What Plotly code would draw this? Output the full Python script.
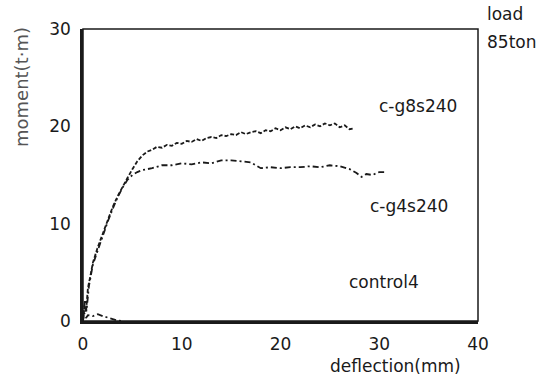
import plotly.graph_objects as go

# c-g8s240 (dashed)
g8_x = [0, 0.15, 0.3, 0.5, 0.8, 1.0, 1.5, 2.0, 2.5, 3.0, 3.5, 4.0, 4.5, 5.0, 5.5, 6.0, 6.5, 7.0, 7.5, 8.0,
        8.5, 9.0, 9.5, 10.0, 10.5, 11.0, 11.5, 12.0, 12.5, 13.0, 13.5, 14.0, 14.5, 15.0, 15.5, 16.0, 16.5,
        17.0, 17.5, 18.0, 18.5, 19.0, 19.5, 20.0, 20.5, 21.0, 21.5, 22.0, 22.5, 23.0, 23.5, 24.0, 24.5,
        25.0, 25.5, 26.0, 26.5, 27.0, 27.5]
g8_y = [0, 1.6, 0.9, 3.4, 4.9, 6.0, 7.6, 9.0, 10.4, 11.7, 12.8, 13.8, 14.7, 15.6, 16.4, 17.0, 17.4, 17.6, 17.9, 17.8,
        18.1, 18.0, 18.3, 18.2, 18.5, 18.4, 18.7, 18.5, 18.8, 18.9, 18.8, 19.1, 19.0, 19.2, 19.1, 19.4, 19.2,
        19.4, 19.5, 19.3, 19.6, 19.5, 19.8, 19.6, 19.9, 19.7, 20.0, 19.8, 20.1, 19.9, 20.2, 20.0, 20.3,
        20.1, 20.3, 19.9, 20.1, 19.7, 19.8]

# c-g4s240 (dash-dot)
g4_x = [0, 0.2, 0.35, 0.6, 1.0, 1.5, 2.0, 2.5, 3.0, 3.5, 4.0, 4.5, 5.0, 5.5, 6.0, 7.0, 8.0, 9.0, 10.0, 11.0,
        12.0, 13.0, 14.0, 15.0, 16.0, 17.0, 17.5, 18.0, 19.0, 20.0, 21.0, 22.0, 23.0, 24.0, 25.0, 26.0, 27.0,
        27.7, 28.2, 28.7, 29.3, 30.0, 30.8]
g4_y = [0, 2.2, 1.0, 3.6, 5.8, 7.3, 8.8, 10.2, 11.5, 12.7, 13.7, 14.5, 15.0, 15.3, 15.5, 15.7, 16.0, 16.0, 16.2, 16.1,
        16.3, 16.2, 16.5, 16.5, 16.4, 16.3, 16.0, 15.7, 15.8, 15.7, 15.8, 15.8, 15.9, 15.8, 16.0, 15.9, 15.6,
        15.2, 14.8, 15.1, 15.0, 15.3, 15.3]

# control4 (dash-dot)
c4_x = [0, 0.1, 0.3, 0.5, 1.0, 1.5, 2.0, 2.5, 3.0, 3.5, 4.0]
c4_y = [0, 0.9, 0.3, 0.6, 0.5, 0.7, 0.5, 0.35, 0.2, 0.05, 0]

x_ticks = [0, 10, 20, 30, 40]
y_ticks = [0, 10, 20, 30]

FONT = "DejaVu Sans"
ink = "#1a1a1a"

fig = go.Figure()
fig.add_trace(go.Scatter(x=g8_x, y=g8_y, mode="lines", name="c-g8s240",
                         line=dict(color=ink, width=1.8, dash="4px,2px")))
fig.add_trace(go.Scatter(x=g4_x, y=g4_y, mode="lines", name="c-g4s240",
                         line=dict(color=ink, width=1.8, dash="6px,3px,2px,3px")))
fig.add_trace(go.Scatter(x=c4_x, y=c4_y, mode="lines", name="control4",
                         line=dict(color=ink, width=1.8, dash="6px,3px,2px,3px")))

fig.update_layout(
    width=550, height=378,
    margin=dict(l=83, r=72, t=29, b=57),
    paper_bgcolor="white", plot_bgcolor="white",
    showlegend=False,
    font=dict(family=FONT, size=17, color=ink),
    shapes=[dict(type="rect", xref="paper", yref="paper", x0=0, y0=0, x1=1, y1=1,
                 line=dict(color=ink, width=1.5))],
)
fig.update_xaxes(range=[0, 40], tickvals=x_ticks, showgrid=False, zeroline=False,
                 showline=True, linecolor=ink, linewidth=3,
                 ticks="outside", ticklen=6, tickcolor="rgba(0,0,0,0)")
fig.update_yaxes(range=[0, 30], tickvals=y_ticks, showgrid=False, zeroline=False,
                 showline=True, linecolor=ink, linewidth=2.5,
                 ticks="outside", ticklen=6, tickcolor="rgba(0,0,0,0)")

ann = [
    dict(text="c-g8s240", x=33.9, y=22.1),
    dict(text="c-g4s240", x=33.0, y=11.8),
    dict(text="control4", x=30.5, y=4.0),
]
for a in ann:
    fig.add_annotation(text=a["text"], x=a["x"], y=a["y"], xref="x", yref="y",
                       xanchor="center", yanchor="middle",
                       showarrow=False, font=dict(family=FONT, size=17, color=ink))

W, H = 395, 292
def px(xp, yp):
    return (xp - 83) / W, (321 - yp) / H

mx, my = px(21, 87)
fig.add_annotation(text="moment(t·m)", xref="paper", yref="paper", x=mx, y=my,
                   xanchor="center", yanchor="middle",
                   textangle=-90, showarrow=False, font=dict(family=FONT, size=18, color="#555"))
dx, dy = px(395, 366)
fig.add_annotation(text="deflection(mm)", xref="paper", yref="paper", x=dx, y=dy,
                   xanchor="center", yanchor="middle",
                   showarrow=False, font=dict(family=FONT, size=17, color=ink))
lx, ly = px(485, 14)
fig.add_annotation(text="load", xref="paper", yref="paper", x=lx, y=ly,
                   xanchor="left", yanchor="middle", showarrow=False,
                   font=dict(family=FONT, size=17, color=ink))
tx, ty = px(485, 42)
fig.add_annotation(text="85ton", xref="paper", yref="paper", x=tx, y=ty,
                   xanchor="left", yanchor="middle", showarrow=False,
                   font=dict(family=FONT, size=17, color=ink))

fig.write_html("out.html")
